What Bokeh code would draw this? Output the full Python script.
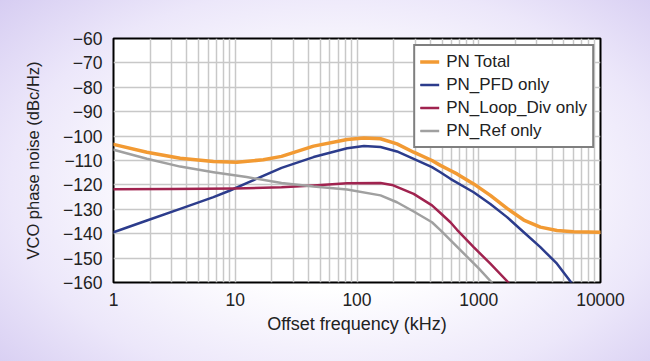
from bokeh.plotting import figure
from bokeh.models import FixedTicker, PrintfTickFormatter, Legend, LegendItem
from bokeh.embed import file_html
from bokeh.resources import INLINE

# ---- data ----
f_total = [1, 1.88, 3.53, 6.62, 10.3, 17, 24, 44, 83, 114, 156, 213, 292, 413, 484, 585, 663, 908, 1245, 1707, 2343, 3206, 4390, 6015, 10000]
pn_total = [-103.4, -106.6, -109.1, -110.4, -110.7, -109.7, -108.3, -104.1, -101.4, -100.8, -101.1, -103.2, -106.6, -110.0, -112.0, -114.1, -115.5, -119.6, -124.3, -129.6, -134.4, -137.3, -138.7, -139.2, -139.4]

f_pfd = [1, 1.88, 3.53, 6.62, 9.07, 12.4, 24, 44, 83, 114, 156, 213, 292, 413, 484, 585, 908, 1245, 1707, 2343, 3206, 4390, 5750]
pn_pfd = [-139.4, -134.6, -129.8, -125.0, -122.3, -119.3, -113.0, -108.6, -105.0, -104.1, -104.5, -106.3, -109.3, -112.7, -114.8, -117.5, -123.0, -127.8, -133.2, -139.4, -145.5, -152.3, -160.0]

f_loop = [1, 3, 10, 24, 44, 83, 156, 194, 292, 413, 484, 585, 663, 908, 1245, 1753]
pn_loop = [-121.8, -121.7, -121.5, -121.0, -120.2, -119.3, -119.2, -120.0, -123.7, -128.4, -131.5, -135.3, -138.4, -145.5, -152.3, -160.0]

f_ref = [1, 1.88, 3.53, 6.62, 12.4, 24, 44, 83, 156, 213, 292, 413, 484, 585, 800, 1000, 1280]
pn_ref = [-105.6, -109.3, -112.5, -114.8, -116.8, -119.2, -120.7, -121.9, -124.3, -127.1, -130.9, -135.3, -138.5, -142.6, -149.4, -154.2, -160.0]

series_names = ["PN Total", "PN_PFD only", "PN_Loop_Div only", "PN_Ref only"]
series_colors = ["#f29a33", "#2c3c8c", "#a0234f", "#a0a0a0"]

x_ticks = [1, 10, 100, 1000, 10000]
y_ticks = [-160, -150, -140, -130, -120, -110, -100, -90, -80, -70, -60]
y_tick_labels = {t: "\u2212" + str(abs(t)) for t in y_ticks}

FONT = "Liberation Sans"

p = figure(width=650, height=361, x_axis_type="log", x_range=(1, 10000), y_range=(-160, -60),
           output_backend="svg", toolbar_location=None,
           x_axis_label="Offset frequency (kHz)", y_axis_label="VCO phase noise (dBc/Hz)")
p.min_border_left = 113
p.min_border_right = 50
p.min_border_top = 38
p.min_border_bottom = 79
p.background_fill_color = "white"
p.border_fill_alpha = 0
p.styles = {"background": "radial-gradient(ellipse 72% 80% at 52% 52%, #ffffff 35%, #ece7fa 70%, #d4caf1 100%)"}
p.outline_line_color = "black"
p.outline_line_width = 2

# grid
p.xgrid.grid_line_color = "#c8c8c8"
p.xgrid.grid_line_width = 1.5
p.xgrid.minor_grid_line_color = "#c8c8c8"
p.xgrid.minor_grid_line_width = 1.5
p.ygrid.grid_line_color = "#c8c8c8"
p.ygrid.grid_line_width = 1.5

p.xaxis.ticker = FixedTicker(ticks=x_ticks, minor_ticks=[m * d for d in [1, 10, 100, 1000] for m in range(2, 10)])
p.xaxis.formatter = PrintfTickFormatter(format="%d")
p.yaxis.ticker = FixedTicker(ticks=y_ticks)
p.yaxis.major_label_overrides = y_tick_labels

for ax in (p.xaxis, p.yaxis):
    ax.axis_line_color = None
    ax.major_tick_line_color = None
    ax.minor_tick_line_color = None
    ax.major_label_text_font = FONT
    ax.major_label_text_font_size = "17.5px"
    ax.major_label_text_color = "#222222"
    ax.axis_label_text_font = FONT
    ax.axis_label_text_font_style = "normal"
    ax.axis_label_text_color = "#222222"
p.xaxis.axis_label_text_font_size = "18px"
p.yaxis.axis_label_text_font_size = "16.5px"
p.xaxis.major_label_standoff = 4
p.yaxis.major_label_standoff = 5
p.xaxis.axis_label_standoff = 5
p.yaxis.axis_label_standoff = 18

data = [(f_total, pn_total), (f_pfd, pn_pfd), (f_loop, pn_loop), (f_ref, pn_ref)]
widths = [3.5, 2.5, 2.5, 2.5]
items = []
for (fx, vy), name, col, w in zip(data, series_names, series_colors, widths):
    r = p.line(fx, vy, line_color=col, line_width=w, line_join="round", line_cap="round")
    items.append(LegendItem(label=name, renderers=[r]))

legend = Legend(items=items, location="top_right")
legend.margin = 6
legend.padding = 5
legend.spacing = 2
legend.label_text_font = FONT
legend.label_text_font_size = "17px"
legend.label_text_color = "#222222"
legend.label_height = 21
legend.glyph_height = 21
legend.glyph_width = 19
legend.label_standoff = 7
legend.border_line_color = "black"
legend.border_line_width = 2
legend.background_fill_color = "white"
legend.background_fill_alpha = 1
p.add_layout(legend, "center")

open("out.html", "w").write(file_html(p, INLINE))
